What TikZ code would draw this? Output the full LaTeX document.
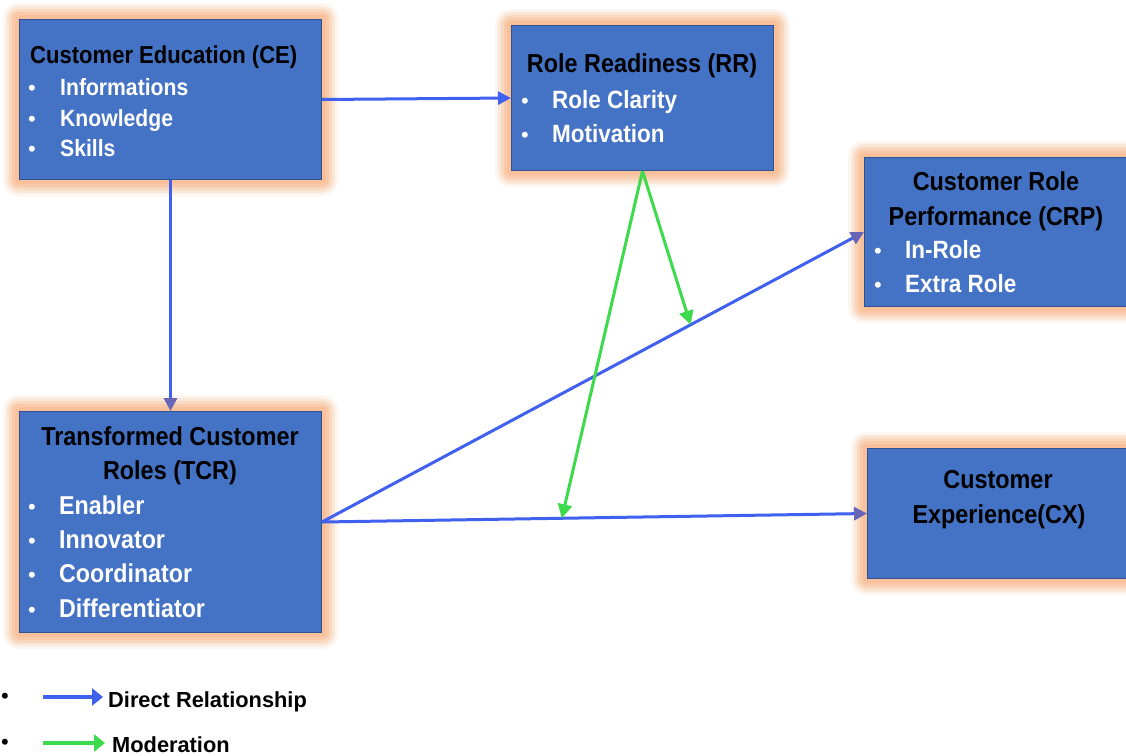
\documentclass[tikz,border=0pt]{standalone}
\usepackage{fontspec}
\setmainfont{Liberation Sans}
\newfontfamily\boxfont{Liberation Sans}[FakeStretch=0.9]
\usetikzlibrary{arrows.meta,backgrounds,calc}
\definecolor{boxblue}{RGB}{68,114,196}
\definecolor{boxedge}{RGB}{47,82,143}
\definecolor{glowc}{RGB}{248,190,150}
\definecolor{relblue}{RGB}{64,96,240}
\definecolor{tipviolet}{RGB}{104,100,184}
\definecolor{modgreen}{RGB}{60,218,76}
\tikzset{
  box/.style={draw=boxedge, line width=1pt, fill=boxblue, anchor=north west, inner sep=0pt},
  ttl/.style={font=\boxfont\bfseries\fontsize{26}{30}\selectfont, text=black, inner sep=0pt, anchor=base},
  ttlw/.style={font=\boxfont\bfseries\fontsize{24.5}{30}\selectfont, text=black, inner sep=0pt, anchor=base west},
  item/.style={font=\boxfont\bfseries\fontsize{25}{28}\selectfont, text=white, inner sep=0pt, anchor=base west},
  itemsm/.style={item, font=\boxfont\bfseries\fontsize{23.5}{28}\selectfont},
  itemlg/.style={item, font=\boxfont\bfseries\fontsize{25.8}{28}\selectfont},
  bul/.style={font=\fontsize{22}{24}\selectfont, text=white, inner sep=0pt, anchor=base},
  rel/.style={line width=3pt, draw=relblue, -{Triangle[length=13pt,width=13pt]}},
  relv/.style={line width=3pt, draw=relblue, -{Triangle[length=13pt,width=13pt,color=tipviolet]}},
  mod/.style={line width=3pt, draw=modgreen, -{Triangle[length=14pt,width=14pt]}},
  legtext/.style={font=\bfseries\fontsize{21.8}{26}\selectfont, text=black, inner sep=0pt, anchor=base west},
  legbul/.style={font=\fontsize{22}{24}\selectfont, text=black, inner sep=0pt, anchor=base}
}
\begin{document}
\begin{tikzpicture}[x=1pt,y=-1pt]
\useasboundingbox (0,0) rectangle (1126,755);

% boxes
\node[box, minimum width=302pt, minimum height=160pt] (ce) at (19,19) {};
\node[box, minimum width=262pt, minimum height=145pt] (rr) at (511,25) {};
\node[box, minimum width=264pt, minimum height=149pt] (crp) at (864,157) {};
\node[box, minimum width=302pt, minimum height=221pt] (tcr) at (19,411) {};
\node[box, minimum width=262pt, minimum height=130pt] (cx) at (867,448) {};

% background and glow
\begin{scope}[on background layer]
\fill[white] (0,0) rectangle (1126,755);
\foreach \n in {ce,rr,crp,tcr,cx}{
  \foreach \d/\o in {16/0.15,13/0.25,10/0.35,7/0.5,4/0.7}{
    \fill[glowc, opacity=\o, rounded corners=\d pt] ($(\n.south west)+(-\d,\d)$) rectangle ($(\n.north east)+(\d,-\d)$);
  }
}
\end{scope}

% CE text
\node[ttlw] (cet) at (30,63) {Customer Education (CE)};
\node[bul] (ceb1) at (32,95) {\textbullet};
\node[itemsm] (cei1) at (60,95) {Informations};
\node[bul] (ceb2) at (32,126) {\textbullet};
\node[itemsm] (cei2) at (60,126) {Knowledge};
\node[bul] (ceb3) at (32,156) {\textbullet};
\node[itemsm] (cei3) at (60,156) {Skills};

% RR text
\node[ttl] (rrt) at (642,72) {Role Readiness (RR)};
\node[bul] (rrb1) at (525,108) {\textbullet};
\node[item] (rri1) at (552,108) {Role Clarity};
\node[bul] (rrb2) at (525,142) {\textbullet};
\node[item] (rri2) at (552,142) {Motivation};

% CRP text
\node[ttl] (crpt1) at (996,190) {Customer Role};
\node[ttl] (crpt2) at (996,225) {Performance (CRP)};
\node[bul] (crpb1) at (878,258) {\textbullet};
\node[item] (crpi1) at (905,258) {In-Role};
\node[bul] (crpb2) at (878,292) {\textbullet};
\node[item] (crpi2) at (905,292) {Extra Role};

% TCR text
\node[ttl] (tcrt1) at (170,445) {Transformed Customer};
\node[ttl] (tcrt2) at (170,479) {Roles (TCR)};
\node[bul] (tcrb1) at (32,514) {\textbullet};
\node[itemlg] (tcri1) at (59,514) {Enabler};
\node[bul] (tcrb2) at (32,548) {\textbullet};
\node[itemlg] (tcri2) at (59,548) {Innovator};
\node[bul] (tcrb3) at (32,582) {\textbullet};
\node[itemlg] (tcri3) at (59,582) {Coordinator};
\node[bul] (tcrb4) at (32,617) {\textbullet};
\node[itemlg] (tcri4) at (59,617) {Differentiator};

% CX text
\node[ttl] (cxt1) at (998,488) {Customer};
\node[ttl] (cxt2) at (999,523) {Experience(CX)};

% direct relationships
\draw[rel] (ce.east) -- (rr.west);
\draw[relv] (ce.south) -- (tcr.north);
\draw[relv] (tcr.east) -- (crp.west);
\draw[relv] (tcr.east) -- (cx.west);

% moderation
\coordinate (m1) at ($(tcr.east)!0.68!(crp.west)$);
\coordinate (m2) at ($(tcr.east)!0.44!(cx.west)$);
\draw[mod] (rr.south) -- (m1);
\draw[mod] (rr.south) -- (m2);

% legend
\node[legbul] (lb1) at (5,703) {\textbullet};
\node[legbul] (lb2) at (5,749) {\textbullet};
\coordinate (l1s) at (43,697);
\coordinate (l1e) at (103,697);
\coordinate (l2s) at (43,743);
\coordinate (l2e) at (105,743);
\draw[line width=4pt, relblue, -{Triangle[length=11pt,width=17pt]}] (l1s) -- (l1e);
\draw[line width=4pt, modgreen, -{Triangle[length=11pt,width=17pt]}] (l2s) -- (l2e);
\node[legtext] (lt1) at (108,707) {Direct Relationship};
\node[legtext] (lt2) at (112,752) {Moderation};
\end{tikzpicture}
\end{document}
